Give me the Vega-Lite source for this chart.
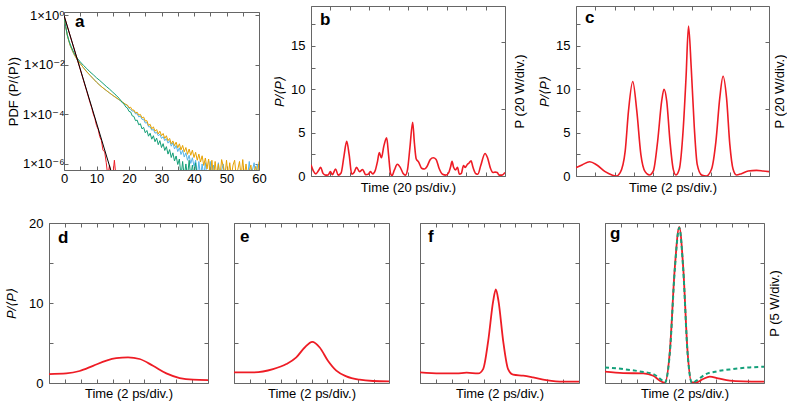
{
"$schema": "https://vega.github.io/schema/vega-lite/v6.json",
"padding": {"left": 0, "top": 5, "right": 0, "bottom": 0},
"config": {
 "font": "Liberation Sans, DejaVu Sans, sans-serif",
 "view": {"stroke": "#666", "strokeWidth": 1},
 "axis": {"domain": false, "grid": false, "tickColor": "#666", "tickSize": -4, "tickWidth": 1, "labelFontSize": 13, "titleFontSize": 13, "titleFontWeight": "normal", "labelFlush": false, "labelOverlap": false, "labelColor": "#000", "titleColor": "#000"},
 "title": {"fontSize": 17, "fontWeight": "bold", "anchor": "start", "frame": "group", "offset": 0, "baseline": "alphabetic", "color": "#000"}
},
"datasets": {
 "a_blue": [{"x":0,"p":1},{"x":1,"p":0.158},{"x":2,"p":0.056},{"x":3,"p":0.028},{"x":4,"p":0.0166},{"x":5,"p":0.0112},{"x":6,"p":0.0076},{"x":8,"p":0.0038},{"x":10,"p":0.002},{"x":12,"p":0.00117},{"x":14,"p":0.00073},{"x":16,"p":0.00047},{"x":18,"p":0.00031},{"x":19.5,"p":0.00023},{"x":20,"p":1.78e-4},{"x":20.5,"p":1.58e-4},{"x":21,"p":1.35e-4},{"x":21.5,"p":1.38e-4},{"x":22,"p":1.05e-4},{"x":22.5,"p":1.07e-4},{"x":23,"p":7.9e-5},{"x":23.5,"p":8.5e-5},{"x":24,"p":6.3e-5},{"x":24.5,"p":6.3e-5},{"x":25,"p":4.47e-5},{"x":25.5,"p":4.7e-5},{"x":26,"p":3.16e-5},{"x":26.5,"p":3.16e-5},{"x":27,"p":2.3e-5},{"x":27.5,"p":2.5e-5},{"x":28,"p":1.74e-5},{"x":28.5,"p":1.9e-5},{"x":29,"p":1.38e-5},{"x":29.5,"p":1.58e-5},{"x":30,"p":1.07e-5},{"x":30.5,"p":1.26e-5},{"x":31,"p":8.7e-6},{"x":31.5,"p":1.05e-5},{"x":32,"p":6.9e-6},{"x":32.5,"p":8.7e-6},{"x":33,"p":5.2e-6},{"x":33.5,"p":7.2e-6},{"x":34,"p":4.0e-6},{"x":34.5,"p":5.6e-6},{"x":35,"p":3.16e-6},{"x":35.5,"p":4.47e-6},{"x":36,"p":2.4e-6},{"x":36.5,"p":3.55e-6},{"x":37,"p":1.9e-6},{"x":37.5,"p":2.82e-6},{"x":38,"p":1.41e-6},{"x":38.5,"p":2.24e-6},{"x":39,"p":1.05e-6},{"x":39.5,"p":1.78e-6},{"x":40,"p":8e-7},{"x":40.5,"p":1.41e-6},{"x":41,"p":3e-7},{"x":41.5,"p":1.26e-6},{"x":42,"p":3e-7},{"x":42.5,"p":1e-6},{"x":43,"p":3e-7},{"x":43.5,"p":1.12e-6},{"x":44,"p":3e-7},{"x":44.5,"p":3e-7},{"x":45,"p":1.26e-6},{"x":45.5,"p":3e-7},{"x":46,"p":9e-7},{"x":46.5,"p":3e-7},{"x":47,"p":3e-7},{"x":47.5,"p":1.12e-6},{"x":48,"p":3e-7},{"x":49,"p":1e-6},{"x":49.5,"p":3e-7},{"x":56.5,"p":3e-7},{"x":57,"p":1.26e-6},{"x":57.5,"p":3e-7},{"x":58.5,"p":1.12e-6},{"x":59,"p":3e-7},{"x":59.5,"p":1e-6},{"x":60,"p":3e-7}],
 "a_yellow": [{"x":0,"p":1},{"x":0.5,"p":0.355},{"x":1,"p":0.158},{"x":1.5,"p":0.0891},{"x":2,"p":0.0562},{"x":3,"p":0.0282},{"x":4,"p":0.0166},{"x":5,"p":0.0112},{"x":6,"p":0.0076},{"x":7,"p":0.0052},{"x":8,"p":0.0038},{"x":9,"p":0.00275},{"x":10,"p":0.002},{"x":11,"p":0.0015},{"x":12,"p":0.00117},{"x":13,"p":0.00093},{"x":14,"p":0.00074},{"x":15,"p":0.00059},{"x":16,"p":0.00048},{"x":17,"p":0.00039},{"x":18,"p":0.000316},{"x":19,"p":0.00025},{"x":19.5,"p":2.4e-4},{"x":20,"p":1.86e-4},{"x":20.5,"p":1.95e-4},{"x":21,"p":1.5e-4},{"x":21.5,"p":1.5e-4},{"x":22,"p":1.15e-4},{"x":22.5,"p":1.23e-4},{"x":23,"p":9.3e-5},{"x":23.5,"p":1.0e-4},{"x":24,"p":7.2e-5},{"x":24.5,"p":7.8e-5},{"x":25,"p":5.4e-5},{"x":25.5,"p":5.6e-5},{"x":26,"p":3.55e-5},{"x":26.5,"p":4.0e-5},{"x":27,"p":2.6e-5},{"x":27.5,"p":3.16e-5},{"x":28,"p":2.1e-5},{"x":28.5,"p":2.45e-5},{"x":29,"p":1.62e-5},{"x":29.5,"p":2.1e-5},{"x":30,"p":1.38e-5},{"x":30.5,"p":1.7e-5},{"x":31,"p":1.07e-5},{"x":31.5,"p":1.38e-5},{"x":32,"p":8.7e-6},{"x":32.5,"p":1.07e-5},{"x":33,"p":6.5e-6},{"x":33.5,"p":8.5e-6},{"x":34,"p":5.5e-6},{"x":34.5,"p":7.6e-6},{"x":35,"p":4.5e-6},{"x":35.5,"p":6.5e-6},{"x":36,"p":3.7e-6},{"x":36.5,"p":5.6e-6},{"x":37,"p":3.1e-6},{"x":37.5,"p":4.6e-6},{"x":38,"p":2.45e-6},{"x":38.5,"p":4.0e-6},{"x":39,"p":2.24e-6},{"x":39.5,"p":3.6e-6},{"x":40,"p":1.82e-6},{"x":40.5,"p":2.95e-6},{"x":41,"p":1.41e-6},{"x":41.5,"p":2.5e-6},{"x":42,"p":1.2e-6},{"x":42.5,"p":2.14e-6},{"x":43,"p":8.7e-7},{"x":43.5,"p":1.74e-6},{"x":44,"p":6.3e-7},{"x":44.5,"p":1.58e-6},{"x":45,"p":3e-7},{"x":45.5,"p":1.41e-6},{"x":46,"p":3e-7},{"x":46.5,"p":1.26e-6},{"x":47,"p":3e-7},{"x":47.5,"p":1.0e-6},{"x":48,"p":3e-7},{"x":48.5,"p":1.5e-6},{"x":49,"p":8e-7},{"x":49.5,"p":3e-7},{"x":50,"p":1.41e-6},{"x":50.5,"p":3e-7},{"x":51,"p":1.12e-6},{"x":51.5,"p":3e-7},{"x":52,"p":9e-7},{"x":52.5,"p":1.41e-6},{"x":53,"p":3e-7},{"x":54,"p":1.26e-6},{"x":54.5,"p":3e-7},{"x":55,"p":1.5e-6},{"x":55.5,"p":3e-7},{"x":56,"p":1e-6},{"x":56.5,"p":3e-7},{"x":57.5,"p":9e-7},{"x":58,"p":3e-7},{"x":59,"p":8e-7},{"x":59.5,"p":3e-7},{"x":60,"p":1.26e-6}],
 "a_green": [{"x":0,"p":1},{"x":0.5,"p":0.355},{"x":1,"p":0.166},{"x":1.5,"p":0.095},{"x":2,"p":0.063},{"x":3,"p":0.0316},{"x":4,"p":0.019},{"x":5,"p":0.0132},{"x":6,"p":0.0095},{"x":7,"p":0.0071},{"x":8,"p":0.0052},{"x":9,"p":0.004},{"x":10,"p":0.003},{"x":11,"p":0.00234},{"x":12,"p":0.00178},{"x":13,"p":0.00135},{"x":14,"p":0.00105},{"x":15,"p":0.00079},{"x":16,"p":0.0006},{"x":17,"p":0.00044},{"x":17.5,"p":3.6e-4},{"x":18,"p":2.9e-4},{"x":18.5,"p":2.6e-4},{"x":19,"p":2.0e-4},{"x":19.5,"p":1.82e-4},{"x":20,"p":1.32e-4},{"x":20.5,"p":1.26e-4},{"x":21,"p":8.7e-5},{"x":21.5,"p":8.3e-5},{"x":22,"p":5.6e-5},{"x":22.5,"p":5.9e-5},{"x":23,"p":3.8e-5},{"x":23.5,"p":4.2e-5},{"x":24,"p":2.6e-5},{"x":24.5,"p":3.0e-5},{"x":25,"p":1.82e-5},{"x":25.5,"p":2.24e-5},{"x":26,"p":1.32e-5},{"x":26.5,"p":1.74e-5},{"x":27,"p":1.0e-5},{"x":27.5,"p":1.38e-5},{"x":28,"p":7.9e-6},{"x":28.5,"p":1.1e-5},{"x":29,"p":6.0e-6},{"x":29.5,"p":8.7e-6},{"x":30,"p":4.6e-6},{"x":30.5,"p":6.6e-6},{"x":31,"p":3.5e-6},{"x":31.5,"p":5.0e-6},{"x":32,"p":2.5e-6},{"x":32.5,"p":3.8e-6},{"x":33,"p":1.82e-6},{"x":33.5,"p":2.8e-6},{"x":34,"p":1.32e-6},{"x":34.5,"p":2.1e-6},{"x":35,"p":9.5e-7},{"x":35.5,"p":1.58e-6},{"x":36,"p":3e-7},{"x":36.5,"p":1.26e-6},{"x":37,"p":3e-7},{"x":37.5,"p":1e-6},{"x":38,"p":3e-7},{"x":38.5,"p":1.41e-6},{"x":39,"p":3e-7},{"x":39.5,"p":9e-7},{"x":40,"p":3e-7},{"x":40.5,"p":1.12e-6},{"x":41,"p":3e-7}],
 "a_red": [{"x":0,"p":1},{"x":1,"p":0.363},{"x":2,"p":0.132},{"x":3,"p":0.049},{"x":4,"p":0.0178},{"x":5,"p":0.0065},{"x":6,"p":0.00235},{"x":7,"p":0.00085},{"x":8,"p":0.0003},{"x":8.5,"p":0.00019},{"x":9,"p":0.000105},{"x":9.5,"p":6.8e-5},{"x":10,"p":3.55e-5},{"x":10.5,"p":2.5e-5},{"x":11,"p":1.26e-5},{"x":11.5,"p":8.9e-6},{"x":12,"p":3.55e-6},{"x":12.5,"p":3.16e-6},{"x":13,"p":1.12e-6},{"x":13.5,"p":3e-7},{"x":14,"p":9e-7},{"x":14.5,"p":3e-7},{"x":15,"p":3e-7},{"x":15.5,"p":1.41e-6},{"x":16,"p":3e-7}],
 "a_black": [{"x":0,"p":1},{"x":14.4,"p":5.6e-7}],
 "b": [{"t":0,"v":1.3},{"t":0.12,"v":0.6},{"t":0.25,"v":0.25},{"t":0.38,"v":0.6},{"t":0.5,"v":1.0},{"t":0.62,"v":0.3},{"t":0.75,"v":0.1},{"t":0.88,"v":0.12},{"t":1.0,"v":0.5},{"t":1.1,"v":0.15},{"t":1.27,"v":0.8},{"t":1.4,"v":0.1},{"t":1.55,"v":0.35},{"t":1.7,"v":2.3},{"t":1.84,"v":4.0},{"t":1.97,"v":2.4},{"t":2.1,"v":0.2},{"t":2.22,"v":0.4},{"t":2.35,"v":1.0},{"t":2.5,"v":0.5},{"t":2.66,"v":0.75},{"t":2.82,"v":0.15},{"t":2.95,"v":0.2},{"t":3.06,"v":0.5},{"t":3.18,"v":0.25},{"t":3.32,"v":0.7},{"t":3.42,"v":1.6},{"t":3.52,"v":2.7},{"t":3.63,"v":2.1},{"t":3.75,"v":3.4},{"t":3.9,"v":4.4},{"t":4.0,"v":2.4},{"t":4.1,"v":0.3},{"t":4.18,"v":0.05},{"t":4.3,"v":0.7},{"t":4.45,"v":1.35},{"t":4.6,"v":1.0},{"t":4.75,"v":0.3},{"t":4.87,"v":0.1},{"t":4.98,"v":0.8},{"t":5.1,"v":3.3},{"t":5.24,"v":6.2},{"t":5.33,"v":3.8},{"t":5.42,"v":2.0},{"t":5.55,"v":1.6},{"t":5.7,"v":0.9},{"t":5.85,"v":0.8},{"t":5.98,"v":1.1},{"t":6.15,"v":1.9},{"t":6.3,"v":2.1},{"t":6.45,"v":1.9},{"t":6.6,"v":0.9},{"t":6.78,"v":0.2},{"t":6.95,"v":0.1},{"t":7.1,"v":0.4},{"t":7.2,"v":1.1},{"t":7.27,"v":1.7},{"t":7.35,"v":1.0},{"t":7.45,"v":0.7},{"t":7.55,"v":1.0},{"t":7.65,"v":0.2},{"t":7.75,"v":0.3},{"t":7.86,"v":1.2},{"t":7.95,"v":1.0},{"t":8.05,"v":1.3},{"t":8.15,"v":1.5},{"t":8.25,"v":1.75},{"t":8.35,"v":1.0},{"t":8.5,"v":0.25},{"t":8.6,"v":0.2},{"t":8.75,"v":1.2},{"t":8.97,"v":2.6},{"t":9.1,"v":2.1},{"t":9.25,"v":0.9},{"t":9.38,"v":0.4},{"t":9.5,"v":0.45},{"t":9.6,"v":0.4},{"t":9.7,"v":0.1},{"t":9.85,"v":0.1},{"t":10,"v":0.4}],
 "c": [{"t":0,"v":0.96},{"t":0.31,"v":1.27},{"t":0.71,"v":1.65},{"t":1.08,"v":1.27},{"t":1.51,"v":0.5},{"t":1.86,"v":0.12},{"t":2.08,"v":0.0},{"t":2.29,"v":0.4},{"t":2.55,"v":2.9},{"t":2.72,"v":7.5},{"t":2.94,"v":10.9},{"t":3.15,"v":7.5},{"t":3.36,"v":2.5},{"t":3.58,"v":0.5},{"t":3.8,"v":0.12},{"t":4.01,"v":0.6},{"t":4.23,"v":4.0},{"t":4.44,"v":8.65},{"t":4.56,"v":10.0},{"t":4.7,"v":8.65},{"t":4.87,"v":4.0},{"t":5.04,"v":0.77},{"t":5.18,"v":0.12},{"t":5.35,"v":0.77},{"t":5.56,"v":5.6},{"t":5.7,"v":11.3},{"t":5.83,"v":17.3},{"t":5.97,"v":12.5},{"t":6.13,"v":5.6},{"t":6.28,"v":1.35},{"t":6.51,"v":0.12},{"t":6.76,"v":0.0},{"t":7.02,"v":0.77},{"t":7.25,"v":4.0},{"t":7.45,"v":9.0},{"t":7.62,"v":11.5},{"t":7.8,"v":9.0},{"t":7.97,"v":3.65},{"t":8.14,"v":0.77},{"t":8.31,"v":0.12},{"t":8.57,"v":0.27},{"t":8.92,"v":0.58},{"t":9.35,"v":0.65},{"t":9.69,"v":0.58},{"t":10,"v":0.5}],
 "d": [{"t":0,"v":1.12},{"t":1.09,"v":1.2},{"t":1.93,"v":1.5},{"t":2.77,"v":2.15},{"t":3.61,"v":2.8},{"t":4.23,"v":3.1},{"t":4.97,"v":3.2},{"t":5.7,"v":3.0},{"t":6.54,"v":2.15},{"t":7.38,"v":1.2},{"t":8.22,"v":0.62},{"t":9.06,"v":0.41},{"t":10,"v":0.37}],
 "e": [{"t":0,"v":1.33},{"t":1.23,"v":1.33},{"t":2.52,"v":1.74},{"t":3.38,"v":2.37},{"t":4.02,"v":3.2},{"t":4.56,"v":4.44},{"t":5.05,"v":5.15},{"t":5.53,"v":4.44},{"t":6.06,"v":2.78},{"t":6.6,"v":1.54},{"t":7.25,"v":0.83},{"t":8.11,"v":0.41},{"t":8.97,"v":0.25},{"t":10,"v":0.2}],
 "f": [{"t":0,"v":1.33},{"t":1.26,"v":1.2},{"t":2.3,"v":1.2},{"t":2.93,"v":1.29},{"t":3.66,"v":1.2},{"t":3.97,"v":1.74},{"t":4.29,"v":5.27},{"t":4.6,"v":10.2},{"t":4.77,"v":11.7},{"t":4.94,"v":10.2},{"t":5.23,"v":5.27},{"t":5.54,"v":1.74},{"t":5.86,"v":1.04},{"t":6.49,"v":0.91},{"t":7.11,"v":0.7},{"t":7.95,"v":0.37},{"t":9.0,"v":0.17},{"t":10,"v":0.17}],
 "g_red": [{"t":0,"v":1.41},{"t":1.15,"v":1.24},{"t":2.41,"v":1.2},{"t":3.03,"v":0.91},{"t":3.45,"v":0.29},{"t":3.77,"v":0.04},{"t":4.08,"v":4.0},{"t":4.39,"v":14.4},{"t":4.67,"v":19.5},{"t":4.92,"v":14.4},{"t":5.19,"v":4.0},{"t":5.44,"v":0.08},{"t":5.75,"v":0.08},{"t":6.17,"v":0.5},{"t":6.59,"v":0.79},{"t":7.11,"v":0.58},{"t":7.85,"v":0.29},{"t":8.68,"v":0.2},{"t":10,"v":0.17}],
 "g_green": [{"t":0,"v":1.95},{"t":1.15,"v":1.74},{"t":2.2,"v":1.45},{"t":3.03,"v":1.12},{"t":3.56,"v":0.37},{"t":3.77,"v":0.04},{"t":4.08,"v":3.8},{"t":4.39,"v":14.2},{"t":4.67,"v":19.4},{"t":4.92,"v":14.2},{"t":5.19,"v":3.8},{"t":5.48,"v":0.0},{"t":5.75,"v":0.29},{"t":6.28,"v":1.04},{"t":7.01,"v":1.45},{"t":8.05,"v":1.74},{"t":9.1,"v":1.95},{"t":10,"v":2.03}]
},
"spacing": 21,
"vconcat": [
 {
  "spacing": 0,
  "bounds": "flush",
  "center": true,
  "hconcat": [
   {"width": 64, "height": 1, "data": {"values": []}, "mark": {"type": "point", "opacity": 0}, "view": {"stroke": null}},
   {
    "width": 195, "height": 158,
    "title": {"text": "a", "dx": 11, "dy": 26},
    "layer": [
     {"data": {"name": "a_blue"}, "mark": {"type": "line", "color": "#56B4E9", "strokeWidth": 1, "clip": true},
      "encoding": {
       "x": {"field": "x", "type": "quantitative", "scale": {"domain": [0, 60], "nice": false, "zero": false},
             "axis": {"orient": "bottom", "values": [0,5,10,15,20,25,30,35,40,45,50,55,60], "labelExpr": "datum.value % 10 === 0 ? datum.label : ''", "labelPadding": 6, "title": null}},
       "y": {"field": "p", "type": "quantitative", "scale": {"type": "log", "domain": [5.7e-7, 1.36], "nice": false},
             "axis": {"orient": "left", "values": [1, 0.01, 0.0001, 0.000001], "labelExpr": "datum.value > 0.5 ? '1×10⁰' : datum.value > 0.005 ? '1×10⁻²' : datum.value > 0.00005 ? '1×10⁻⁴' : '1×10⁻⁶'", "labelPadding": 4, "title": "PDF (P/⟨P⟩)", "titlePadding": 2}}}},
     {"data": {"name": "a_yellow"}, "mark": {"type": "line", "color": "#E6A100", "strokeWidth": 1, "clip": true},
      "encoding": {
       "x": {"field": "x", "type": "quantitative", "scale": {"domain": [0, 60], "nice": false, "zero": false},
             "axis": {"orient": "top", "values": [0,5,10,15,20,25,30,35,40,45,50,55,60], "labels": false, "title": null}},
       "y": {"field": "p", "type": "quantitative", "scale": {"type": "log", "domain": [5.7e-7, 1.36], "nice": false},
             "axis": {"orient": "right", "values": [1, 0.01, 0.0001, 0.000001], "labels": false, "title": null}}}},
     {"data": {"name": "a_green"}, "mark": {"type": "line", "color": "#119E76", "strokeWidth": 1, "clip": true},
      "encoding": {
       "x": {"field": "x", "type": "quantitative", "scale": {"domain": [0, 60], "nice": false, "zero": false}, "axis": null},
       "y": {"field": "p", "type": "quantitative", "scale": {"type": "log", "domain": [5.7e-7, 1.36], "nice": false}, "axis": null}}},
     {"data": {"name": "a_red"}, "mark": {"type": "line", "color": "#EE1C25", "strokeWidth": 1, "clip": true},
      "encoding": {
       "x": {"field": "x", "type": "quantitative", "scale": {"domain": [0, 60], "nice": false, "zero": false}, "axis": null},
       "y": {"field": "p", "type": "quantitative", "scale": {"type": "log", "domain": [5.7e-7, 1.36], "nice": false}, "axis": null}}},
     {"data": {"name": "a_black"}, "mark": {"type": "line", "color": "#000000", "strokeWidth": 1, "clip": true},
      "encoding": {
       "x": {"field": "x", "type": "quantitative", "scale": {"domain": [0, 60], "nice": false, "zero": false}, "axis": null},
       "y": {"field": "p", "type": "quantitative", "scale": {"type": "log", "domain": [5.7e-7, 1.36], "nice": false}, "axis": null}}}
    ],
    "resolve": {"axis": {"x": "independent", "y": "independent"}}
   },
   {"width": 52, "height": 1, "data": {"values": []}, "mark": {"type": "point", "opacity": 0}, "view": {"stroke": null}},
   {
    "width": 194, "height": 170,
    "title": {"text": "b", "dx": 9, "dy": 27},
    "data": {"name": "b"},
    "layer": [
     {"mark": {"type": "line", "color": "#EE1C25", "strokeWidth": 1.6, "interpolate": "monotone", "clip": true},
      "encoding": {
       "x": {"field": "t", "type": "quantitative", "scale": {"domain": [0, 10], "nice": false, "zero": false},
             "axis": {"orient": "bottom", "values": [0,1,2,3,4,5,6,7,8,9,10], "labels": false, "title": "Time (20 ps/div.)", "titlePadding": 5}},
       "y": {"field": "v", "type": "quantitative", "scale": {"domain": [0, 19.6], "nice": false, "zero": false},
             "axis": {"orient": "left", "values": [0,2.5,5,7.5,10,12.5,15,17.5], "labelExpr": "datum.value % 5 === 0 ? datum.label : ''", "labelPadding": 10, "title": "P/⟨P⟩", "titleFontStyle": "italic", "titlePadding": 4}}}},
     {"mark": {"type": "line", "opacity": 0},
      "encoding": {
       "x": {"field": "t", "type": "quantitative", "scale": {"domain": [0, 10], "nice": false, "zero": false},
             "axis": {"orient": "top", "values": [0,1,2,3,4,5,6,7,8,9,10], "labels": false, "title": null}},
       "y": {"field": "v", "type": "quantitative", "scale": {"domain": [0, 19.6], "nice": false, "zero": false},
             "axis": {"orient": "right", "values": [0, 7.7, 15.4], "labels": false, "title": "P (20 W/div.)", "titleAngle": -90, "titlePadding": 21}}}}
    ],
    "resolve": {"axis": {"x": "independent", "y": "independent"}}
   },
   {"width": 71, "height": 1, "data": {"values": []}, "mark": {"type": "point", "opacity": 0}, "view": {"stroke": null}},
   {
    "width": 193, "height": 170,
    "title": {"text": "c", "dx": 9, "dy": 25},
    "data": {"name": "c"},
    "layer": [
     {"mark": {"type": "line", "color": "#EE1C25", "strokeWidth": 1.6, "interpolate": "monotone", "clip": true},
      "encoding": {
       "x": {"field": "t", "type": "quantitative", "scale": {"domain": [0, 10], "nice": false, "zero": false},
             "axis": {"orient": "bottom", "values": [0,1,2,3,4,5,6,7,8,9,10], "labels": false, "title": "Time (2 ps/div.)", "titlePadding": 5}},
       "y": {"field": "v", "type": "quantitative", "scale": {"domain": [0, 19.6], "nice": false, "zero": false},
             "axis": {"orient": "left", "values": [0,2.5,5,7.5,10,12.5,15,17.5], "labelExpr": "datum.value % 5 === 0 ? datum.label : ''", "labelPadding": 10, "title": "P/⟨P⟩", "titleFontStyle": "italic", "titlePadding": 4}}}},
     {"mark": {"type": "line", "opacity": 0},
      "encoding": {
       "x": {"field": "t", "type": "quantitative", "scale": {"domain": [0, 10], "nice": false, "zero": false},
             "axis": {"orient": "top", "values": [0,1,2,3,4,5,6,7,8,9,10], "labels": false, "title": null}},
       "y": {"field": "v", "type": "quantitative", "scale": {"domain": [0, 19.6], "nice": false, "zero": false},
             "axis": {"orient": "right", "values": [0, 7.7, 15.4], "labels": false, "title": "P (20 W/div.)", "titleAngle": -90, "titlePadding": 17}}}}
    ],
    "resolve": {"axis": {"x": "independent", "y": "independent"}}
   }
  ]
 },
 {
  "spacing": 0,
  "bounds": "flush",
  "hconcat": [
   {"width": 49, "height": 1, "data": {"values": []}, "mark": {"type": "point", "opacity": 0}, "view": {"stroke": null}},
   {
    "width": 159, "height": 160,
    "title": {"text": "d", "dx": 9, "dy": 34},
    "data": {"name": "d"},
    "layer": [
     {"mark": {"type": "line", "color": "#EE1C25", "strokeWidth": 1.8, "interpolate": "monotone", "clip": true},
      "encoding": {
       "x": {"field": "t", "type": "quantitative", "scale": {"domain": [0, 10], "nice": false, "zero": false},
             "axis": {"orient": "bottom", "values": [0,1,2,3,4,5,6,7,8,9,10], "labels": false, "title": "Time (2 ps/div.)", "titlePadding": 4}},
       "y": {"field": "v", "type": "quantitative", "scale": {"domain": [0, 20], "nice": false, "zero": false},
             "axis": {"orient": "left", "values": [0,5,10,15,20], "labelExpr": "datum.value % 10 === 0 ? datum.label : ''", "labelPadding": 10, "title": "P/⟨P⟩", "titleFontStyle": "italic", "titlePadding": 10}}}},
     {"mark": {"type": "line", "opacity": 0},
      "encoding": {
       "x": {"field": "t", "type": "quantitative", "scale": {"domain": [0, 10], "nice": false, "zero": false},
             "axis": {"orient": "top", "values": [0,1,2,3,4,5,6,7,8,9,10], "labels": false, "title": null}},
       "y": {"field": "v", "type": "quantitative", "scale": {"domain": [0, 20], "nice": false, "zero": false},
             "axis": {"orient": "right", "values": [5,10,15], "labels": false, "title": null}}}}
    ],
    "resolve": {"axis": {"x": "independent", "y": "independent"}}
   },
   {"width": 26, "height": 1, "data": {"values": []}, "mark": {"type": "point", "opacity": 0}, "view": {"stroke": null}},
   {
    "width": 155, "height": 160,
    "title": {"text": "e", "dx": 6, "dy": 27},
    "data": {"name": "e"},
    "layer": [
     {"mark": {"type": "line", "color": "#EE1C25", "strokeWidth": 1.8, "interpolate": "monotone", "clip": true},
      "encoding": {
       "x": {"field": "t", "type": "quantitative", "scale": {"domain": [0, 10], "nice": false, "zero": false},
             "axis": {"orient": "bottom", "values": [0,1,2,3,4,5,6,7,8,9,10], "labels": false, "title": "Time (2 ps/div.)", "titlePadding": 4}},
       "y": {"field": "v", "type": "quantitative", "scale": {"domain": [0, 20], "nice": false, "zero": false},
             "axis": {"orient": "left", "values": [0,5,10,15,20], "labels": false, "title": null}}}},
     {"mark": {"type": "line", "opacity": 0},
      "encoding": {
       "x": {"field": "t", "type": "quantitative", "scale": {"domain": [0, 10], "nice": false, "zero": false},
             "axis": {"orient": "top", "values": [0,1,2,3,4,5,6,7,8,9,10], "labels": false, "title": null}},
       "y": {"field": "v", "type": "quantitative", "scale": {"domain": [0, 20], "nice": false, "zero": false},
             "axis": {"orient": "right", "values": [5,10,15], "labels": false, "title": null}}}}
    ],
    "resolve": {"axis": {"x": "independent", "y": "independent"}}
   },
   {"width": 31, "height": 1, "data": {"values": []}, "mark": {"type": "point", "opacity": 0}, "view": {"stroke": null}},
   {
    "width": 159, "height": 160,
    "title": {"text": "f", "dx": 8, "dy": 27},
    "data": {"name": "f"},
    "layer": [
     {"mark": {"type": "line", "color": "#EE1C25", "strokeWidth": 1.8, "interpolate": "monotone", "clip": true},
      "encoding": {
       "x": {"field": "t", "type": "quantitative", "scale": {"domain": [0, 10], "nice": false, "zero": false},
             "axis": {"orient": "bottom", "values": [0,1,2,3,4,5,6,7,8,9,10], "labels": false, "title": "Time (2 ps/div.)", "titlePadding": 4}},
       "y": {"field": "v", "type": "quantitative", "scale": {"domain": [0, 20], "nice": false, "zero": false},
             "axis": {"orient": "left", "values": [0,5,10,15,20], "labels": false, "title": null}}}},
     {"mark": {"type": "line", "opacity": 0},
      "encoding": {
       "x": {"field": "t", "type": "quantitative", "scale": {"domain": [0, 10], "nice": false, "zero": false},
             "axis": {"orient": "top", "values": [0,1,2,3,4,5,6,7,8,9,10], "labels": false, "title": null}},
       "y": {"field": "v", "type": "quantitative", "scale": {"domain": [0, 20], "nice": false, "zero": false},
             "axis": {"orient": "right", "values": [5,10,15], "labels": false, "title": null}}}}
    ],
    "resolve": {"axis": {"x": "independent", "y": "independent"}}
   },
   {"width": 26, "height": 1, "data": {"values": []}, "mark": {"type": "point", "opacity": 0}, "view": {"stroke": null}},
   {
    "width": 159, "height": 160,
    "title": {"text": "g", "dx": 5, "dy": 24},
    "layer": [
     {"data": {"name": "g_red"}, "mark": {"type": "line", "color": "#EE1C25", "strokeWidth": 1.8, "interpolate": "monotone", "clip": true},
      "encoding": {
       "x": {"field": "t", "type": "quantitative", "scale": {"domain": [0, 10], "nice": false, "zero": false},
             "axis": {"orient": "bottom", "values": [0,1,2,3,4,5,6,7,8,9,10], "labels": false, "title": "Time (2 ps/div.)", "titlePadding": 4}},
       "y": {"field": "v", "type": "quantitative", "scale": {"domain": [0, 20], "nice": false, "zero": false},
             "axis": {"orient": "left", "values": [0,5,10,15,20], "labels": false, "title": null}}}},
     {"data": {"name": "g_green"}, "mark": {"type": "line", "color": "#14A07A", "strokeWidth": 2, "strokeDash": [4, 3], "interpolate": "monotone", "clip": true},
      "encoding": {
       "x": {"field": "t", "type": "quantitative", "scale": {"domain": [0, 10], "nice": false, "zero": false},
             "axis": {"orient": "top", "values": [0,1,2,3,4,5,6,7,8,9,10], "labels": false, "title": null}},
       "y": {"field": "v", "type": "quantitative", "scale": {"domain": [0, 20], "nice": false, "zero": false},
             "axis": {"orient": "right", "values": [5,10,15], "labels": false, "title": "P (5 W/div.)", "titleAngle": -90, "titlePadding": 17}}}}
    ],
    "resolve": {"axis": {"x": "independent", "y": "independent"}}
   }
  ]
 }
]
}
